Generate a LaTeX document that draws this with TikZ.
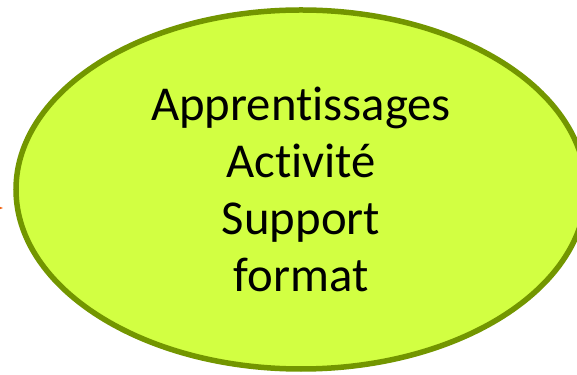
\documentclass[tikz,border=0pt]{standalone}
\usepackage{fontspec}
\setmainfont[RawFeature=-liga]{Carlito}
\usetikzlibrary{shapes.geometric}
\usetikzlibrary{arrows.meta}

\definecolor{limefill}{RGB}{210,255,66}
\definecolor{olivedraw}{RGB}{115,150,0}
\definecolor{arroworange}{RGB}{240,100,20}

\tikzset{
  bubble/.style={ellipse, draw=olivedraw, fill=limefill, line width=5.5pt,
    minimum width=570pt, minimum height=359pt, inner sep=0pt,
    align=center, font=\fontsize{48.7}{57}\selectfont},
}

\begin{document}
\begin{tikzpicture}
        \useasboundingbox (0,0) rectangle (577pt,374pt);
        % incoming arrow (only its tip is visible)
        \coordinate (a_tail) at (-30pt,166pt);
        \coordinate (a_tip) at (3pt,166pt);
        \draw[arroworange, line width=2.5pt, -{Stealth[length=6pt]}] (a_tail) -- (a_tip);
        % main bubble
        \node[bubble](topics) at (301pt,184.5pt){Apprentissages\\Activité\\Support\\format};
\end{tikzpicture}
\end{document}
